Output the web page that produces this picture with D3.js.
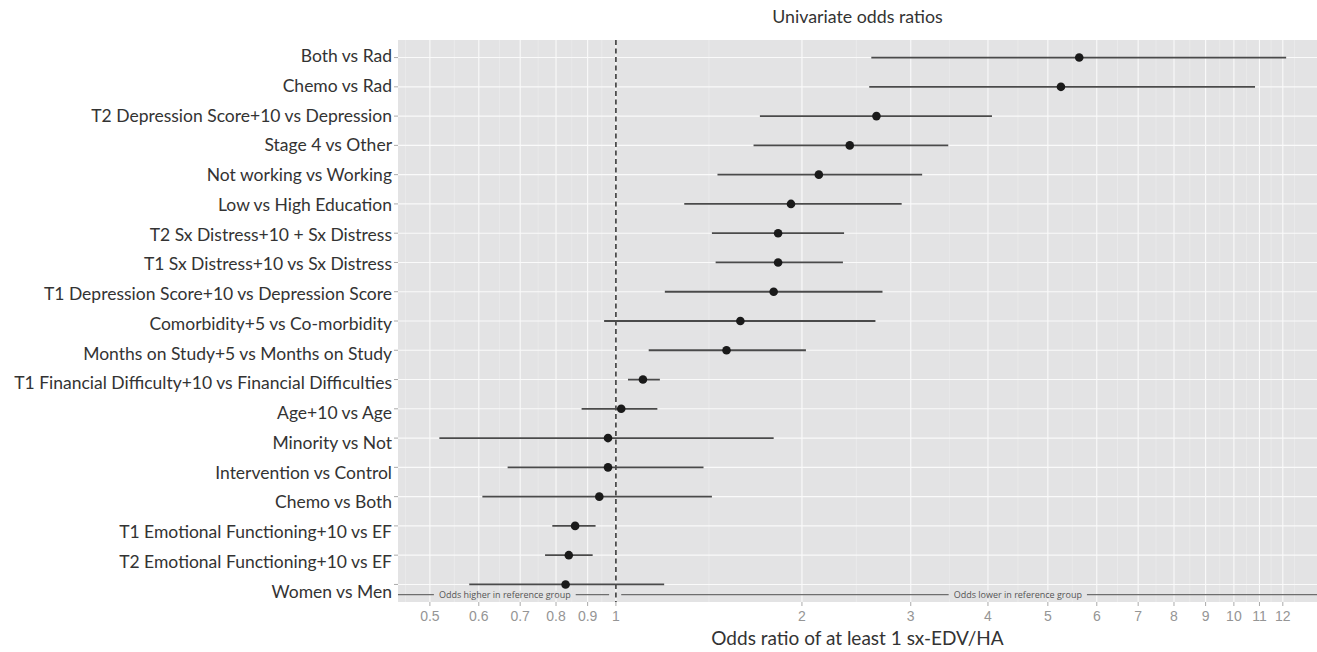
<!DOCTYPE html>
<html><head><meta charset="utf-8">
<script src="https://cdn.jsdelivr.net/npm/d3@7"></script>
<style>body{margin:0;background:#fff} svg{display:block}</style>
</head><body>
<svg id="chart" width="1317" height="652"></svg>
<script>
// ---- data ----
const categories = [
  "Both vs Rad",
  "Chemo vs Rad",
  "T2 Depression Score+10 vs Depression",
  "Stage 4 vs Other",
  "Not working vs Working",
  "Low vs High Education",
  "T2 Sx Distress+10 + Sx Distress",
  "T1 Sx Distress+10 vs Sx Distress",
  "T1 Depression Score+10 vs Depression Score",
  "Comorbidity+5 vs Co-morbidity",
  "Months on Study+5 vs Months on Study",
  "T1 Financial Difficulty+10 vs Financial Difficulties",
  "Age+10 vs Age",
  "Minority vs Not",
  "Intervention vs Control",
  "Chemo vs Both",
  "T1 Emotional Functioning+10 vs EF",
  "T2 Emotional Functioning+10 vs EF",
  "Women vs Men"
];
const oddsRatios = [5.62, 5.25, 2.64, 2.39, 2.13, 1.92, 1.83, 1.83, 1.80, 1.59, 1.51, 1.106, 1.02, 0.971, 0.971, 0.940, 0.859, 0.839, 0.829];
const lowerCI    = [2.59, 2.57, 1.71, 1.67, 1.46, 1.29, 1.43, 1.45, 1.20, 0.957, 1.13, 1.046, 0.88, 0.518, 0.668, 0.608, 0.789, 0.768, 0.579];
const upperCI    = [12.15, 10.82, 4.06, 3.45, 3.13, 2.90, 2.34, 2.33, 2.70, 2.63, 2.03, 1.178, 1.167, 1.80, 1.386, 1.43, 0.927, 0.917, 1.197];
const xTickValues = [0.5, 0.6, 0.7, 0.8, 0.9, 1, 2, 3, 4, 5, 6, 7, 8, 9, 10, 11, 12];
const xTickLabels = ["0.5", "0.6", "0.7", "0.8", "0.9", "1", "2", "3", "4", "5", "6", "7", "8", "9", "10", "11", "12"];
const xDomain = [0.444, 13.63];
const referenceValue = 1;
const annotationText = ["Odds higher in reference group", "Odds lower in reference group"];
const annotationX = [0.661, 4.47];
const annotationSegments = [[0.444, 0.975], [1.02, 13.63]];
const titleText = "Univariate odds ratios";
const xAxisTitle = "Odds ratio of at least 1 sx-EDV/HA";

// ---- layout ----
const panel = {left: 398, right: 1317, top: 40, bottom: 602};
const svg = d3.select("#chart");
const x = d3.scaleLog().domain(xDomain).range([panel.left, panel.right]);
const step = (panel.bottom - panel.top) / (categories.length - 1 + 1.2);
const y = d3.scalePoint().domain(categories)
  .range([panel.top + 0.6 * step, panel.bottom - 0.6 * step]);
const yLabel = d3.scalePoint().domain(categories).range([55.7, 591]);
const annY = panel.bottom - 0.25 * step;

const font = "Lato, 'Noto Sans', sans-serif";
const panelFill = "#e3e3e4";

// panel
svg.append("rect").attr("x", panel.left).attr("y", panel.top)
  .attr("width", panel.right - panel.left).attr("height", panel.bottom - panel.top)
  .attr("fill", panelFill);

// minor grid (log midpoints, extended one step at each end)
const lt = xTickValues.map(Math.log);
const ext = [2 * lt[0] - lt[1], ...lt, 2 * lt[lt.length - 1] - lt[lt.length - 2]];
const minor = [];
for (let i = 0; i < ext.length - 1; i++) minor.push(Math.exp((ext[i] + ext[i + 1]) / 2));
svg.append("g").selectAll("line").data(minor.filter(v => v > xDomain[0] && v < xDomain[1]))
  .join("line")
  .attr("x1", d => x(d)).attr("x2", d => x(d))
  .attr("y1", panel.top).attr("y2", panel.bottom)
  .attr("stroke", "#eeeeee").attr("stroke-width", 0.6);

// major grid
svg.append("g").selectAll("line").data(xTickValues).join("line")
  .attr("x1", d => x(d)).attr("x2", d => x(d))
  .attr("y1", panel.top).attr("y2", panel.bottom)
  .attr("stroke", "#fafafa").attr("stroke-width", 1.1);
svg.append("g").selectAll("line").data(categories).join("line")
  .attr("x1", panel.left).attr("x2", panel.right)
  .attr("y1", d => y(d)).attr("y2", d => y(d))
  .attr("stroke", "#fafafa").attr("stroke-width", 1.1);

// annotation segments
svg.append("g").selectAll("line").data(annotationSegments).join("line")
  .attr("x1", d => x(d[0])).attr("x2", d => x(d[1]))
  .attr("y1", annY).attr("y2", annY)
  .attr("stroke", "#6e6e6e").attr("stroke-width", 1.3);
const annG = svg.append("g");
annotationText.forEach((t, i) => {
  const g = annG.append("g");
  const txt = g.append("text").attr("x", x(annotationX[i])).attr("y", annY)
    .attr("text-anchor", "middle").attr("dominant-baseline", "central")
    .attr("font-family", "'Open Sans', sans-serif").attr("font-size", 9)
    .attr("fill", "#555").text(t);
  const bb = txt.node().getBBox();
  g.insert("rect", "text").attr("x", bb.x - 5).attr("y", annY - 4)
    .attr("width", bb.width + 10).attr("height", 8).attr("fill", panelFill);
});

// reference line
svg.append("line")
  .attr("x1", x(referenceValue)).attr("x2", x(referenceValue))
  .attr("y1", panel.top).attr("y2", panel.bottom)
  .attr("stroke", "#3a3a3a").attr("stroke-width", 1.6)
  .attr("stroke-dasharray", "5,3.5");

// error bars
svg.append("g").selectAll("line").data(categories).join("line")
  .attr("x1", (d, i) => x(lowerCI[i])).attr("x2", (d, i) => x(upperCI[i]))
  .attr("y1", d => y(d)).attr("y2", d => y(d))
  .attr("stroke", "#4a4a4a").attr("stroke-width", 1.8);
// points
svg.append("g").selectAll("circle").data(categories).join("circle")
  .attr("cx", (d, i) => x(oddsRatios[i])).attr("cy", d => y(d))
  .attr("r", 4.3).attr("fill", "#1a1a1a");

// y axis ticks and labels
svg.append("g").selectAll("line").data(categories).join("line")
  .attr("x1", panel.left - 4).attr("x2", panel.left)
  .attr("y1", d => y(d)).attr("y2", d => y(d))
  .attr("stroke", "#aaa").attr("stroke-width", 1);
svg.append("g").selectAll("text").data(categories).join("text")
  .attr("x", panel.left - 6).attr("y", d => yLabel(d))
  .attr("text-anchor", "end").attr("dominant-baseline", "central")
  .attr("font-family", font).attr("font-size", 17.5).attr("fill", "#333")
  .text(d => d);

// x axis ticks and labels
svg.append("g").selectAll("line").data(xTickValues).join("line")
  .attr("x1", d => x(d)).attr("x2", d => x(d))
  .attr("y1", panel.bottom).attr("y2", panel.bottom + 4)
  .attr("stroke", "#aaa").attr("stroke-width", 1);
svg.append("g").selectAll("text").data(xTickValues).join("text")
  .attr("x", d => x(d)).attr("y", panel.bottom + 14)
  .attr("text-anchor", "middle").attr("dominant-baseline", "central")
  .attr("font-family", "'Liberation Sans', Arial, sans-serif").attr("font-size", 14)
  .attr("fill", "#959595")
  .text((d, i) => xTickLabels[i]);

// titles
svg.append("text").attr("x", (panel.left + panel.right) / 2).attr("y", 16)
  .attr("text-anchor", "middle").attr("dominant-baseline", "central")
  .attr("font-family", font).attr("font-size", 17.8).attr("fill", "#333")
  .text(titleText);
svg.append("text").attr("x", (panel.left + panel.right) / 2).attr("y", 637)
  .attr("text-anchor", "middle").attr("dominant-baseline", "central")
  .attr("font-family", font).attr("font-size", 19).attr("fill", "#333")
  .text(xAxisTitle);
</script>
</body></html>
